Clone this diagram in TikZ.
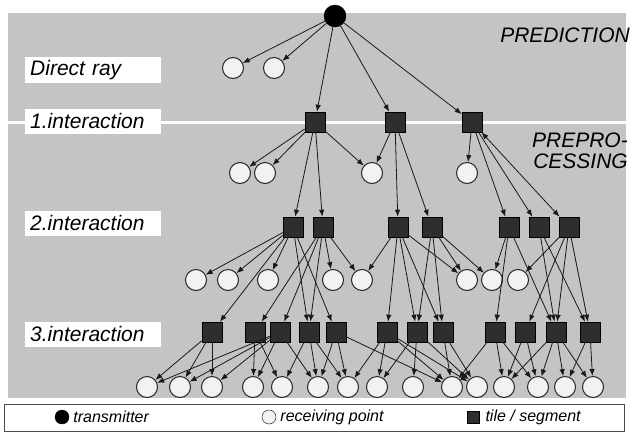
\documentclass[tikz,border=0pt]{standalone}
\usepackage{fontspec}
\setmainfont{Liberation Sans}
\usetikzlibrary{positioning}
\usetikzlibrary{arrows.meta}

\definecolor{panelgray}{gray}{0.77}
\definecolor{tilegray}{gray}{0.18}
\definecolor{pointgray}{gray}{0.95}

\tikzset{
  sender/.style={circle,fill=black,draw=black,minimum size=22pt,inner sep=0pt},
  point/.style={circle,fill=pointgray,draw=black!85,line width=1pt,minimum size=21pt,inner sep=0pt},
  tile/.style={rectangle,fill=tilegray,draw=black,line width=0.6pt,minimum size=20pt,inner sep=0pt},
  ray/.style={draw=black!90,line width=0.8pt,-{Latex[length=7pt,width=5.5pt]}},
  levellabel/.style={fill=white,font=\fontsize{21}{24}\selectfont\itshape,anchor=west,text width=126pt,inner xsep=5pt,minimum height=25pt,align=left},
  sidelabel/.style={font=\fontsize{21}{21}\selectfont\itshape,anchor=east,align=right,inner sep=0pt},
  legendtext/.style={font=\fontsize{16}{18}\selectfont\itshape,inner sep=0pt}
}

\begin{document}
\begin{tikzpicture}[x=1pt,y=-1pt]
\useasboundingbox (0,0) rectangle (632,437);
\fill[panelgray] (8,13) rectangle (626,398);
\draw[white,line width=3pt] (8,122) -- (626,122);

% level labels
\node[levellabel] (lbl0) at (25,70) {Direct ray};
\node[levellabel] (lbl1) at (25,121) {1.interaction};
\node[levellabel] (lbl2) at (25,223) {2.interaction};
\node[levellabel] (lbl3) at (25,334) {3.interaction};
\node[sidelabel] (pred) at (630,35) {PREDICTION};
\node[sidelabel] (prep) at (628,151) {PREPRO-\\CESSING};

% transmitter and direct ray
\node[sender] (tx) at (335,16) {};
\node[point] (r0a) at (233,68) {};
\node[point] (r0b) at (274,68) {};

% 1.interaction
\foreach \n/\x in {a/315,b/395,c/472} \node[tile] (t1\n) at (\x,122) {};
\foreach \n/\x in {a/240,b/265,c/372,d/467} \node[point] (r1\n) at (\x,173) {};

% 2.interaction
\foreach \n/\x in {a/293,b/323,c/398,d/432,e/509,f/539,g/569} \node[tile] (t2\n) at (\x,227) {};
\foreach \n/\x in {a/196,b/228,c/268,d/333,e/362,f/467,g/492,h/518} \node[point] (r2\n) at (\x,280) {};

% 3.interaction
\foreach \n/\x in {a/212,b/255,c/280,d/309,e/336,f/387,g/417,h/443,i/495,j/525,k/556,l/590} \node[tile] (t3\n) at (\x,332) {};
\foreach \n/\x in {a/147,b/180,c/212,d/253,e/282,f/318,g/348,h/377,i/413,j/452,k/477,l/504,m/538,n/565,o/593} \node[point] (r3\n) at (\x,387) {};

% rays
\foreach \a/\b in {tx/r0a,tx/r0b,tx/t1a,tx/t1b,tx/t1c,
  t1a/r1a,t1a/r1b,t1a/r1c,t1a/t2a,t1a/t2b,
  t1b/r1c,t1b/t2c,t1b/t2d,
  t1c/r1d,t1c/t2e,t1c/t2f}
  \draw[ray] (\a) -- (\b);
\draw[ray,{Latex[length=7pt,width=5.5pt]}-{Latex[length=7pt,width=5.5pt]}] (t1c) -- (t2g);

\foreach \a/\b in {t2a/r2a,t2a/r2b,t2a/r2c,t2a/t3a,t2a/t3d,t2a/t3e,
  t2b/r2d,t2b/r2e,t2b/t3b,t2b/t3c,t2b/t3d,
  t2c/r2e,t2c/r2f,t2c/t3f,t2c/t3g,t2c/t3h,
  t2d/r2f,t2d/r2g,t2d/t3g,t2d/t3h,
  t2e/r2g,t2e/t3i,t2e/t3k,
  t2f/t3k,t2f/t3l,
  t2g/r2h,t2g/t3j,t2g/t3k,t2g/t3l}
  \draw[ray] (\a) -- (\b);

\foreach \a/\b in {t3a/r3a,t3a/r3b,t3a/r3c,
  t3b/r3d,t3b/r3e,
  t3c/r3a,t3c/r3b,t3c/r3c,t3c/r3d,t3c/r3f,
  t3d/r3e,t3d/r3f,t3d/r3g,
  t3e/r3f,t3e/r3g,t3e/r3j,
  t3f/r3g,t3f/r3h,t3f/r3j,t3f/r3k,
  t3g/r3h,t3g/r3i,t3g/r3k,
  t3h/r3j,t3h/r3k,
  t3i/r3j,t3i/r3l,t3i/r3m,
  t3j/r3l,t3j/r3m,
  t3k/r3l,t3k/r3m,t3k/r3n,t3k/r3o,
  t3l/r3n,t3l/r3o}
  \draw[ray] (\a) -- (\b);

% legend
\draw[black!70,fill=white,line width=0.8pt] (4,404) rectangle (624,431);
\node[sender,minimum size=14pt] (lgtx) at (62,417) {};
\node[legendtext,right=4pt of lgtx] {transmitter};
\node[point,minimum size=14pt,line width=0.5pt] (lgpt) at (269,417) {};
\node[legendtext,right=4pt of lgpt] {receiving point};
\node[tile,minimum size=12pt] (lgtile) at (473,417) {};
\node[legendtext,right=6pt of lgtile] {tile / segment};
\end{tikzpicture}
\end{document}
